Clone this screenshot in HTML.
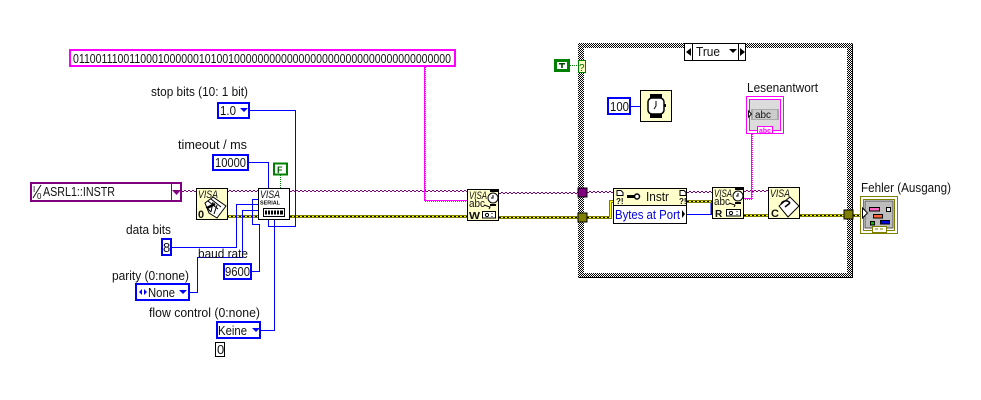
<!DOCTYPE html>
<html><head><meta charset="utf-8"><style>
html,body{margin:0;padding:0;background:#fff;width:981px;height:400px;overflow:hidden}
svg{display:block}
text{font-family:"Liberation Sans",sans-serif;font-size:13px;fill:#111}
.w{fill:none;stroke:#00f;stroke-width:1;shape-rendering:crispEdges}
.b{fill:#fff;stroke:#00f;stroke-width:2;shape-rendering:crispEdges}
.n{fill:#ffffcc;stroke:#000;stroke-width:1;shape-rendering:crispEdges}
.i{fill:none;stroke:#000;stroke-width:1}
.v{font-size:11px;font-style:italic}
</style></head><body>
<svg width="981" height="400" viewBox="0 0 981 400" xmlns="http://www.w3.org/2000/svg">
<defs>
<pattern id="ck" width="2" height="2" patternUnits="userSpaceOnUse"><rect width="2" height="2" fill="#fff"/><rect width="1" height="1" fill="#000"/><rect x="1" y="1" width="1" height="1" fill="#000"/></pattern>
</defs>

<!-- case structure -->
<rect x="578" y="43" width="275" height="235" fill="url(#ck)"/>
<rect x="584" y="48" width="263" height="225" fill="#fff"/>
<path d="M852.500 43.500V277.500H578.500" fill="none" stroke="#000" shape-rendering="crispEdges"/>

<!-- purple refnum wires -->
<g fill="none" stroke="#800080" stroke-width="1" stroke-dasharray="2 2" shape-rendering="crispEdges">
<path d="M182 191.500H196M227 191.500H258M290 191.500H467M499 193.500H578M587 192.500H613M687 192.500H712M744 191.500H768"/>
<path d="M184 190.500H196M229 190.500H258M292 190.500H467M501 192.500H578M589 191.500H613M689 191.500H712M746 190.500H768"/>
</g>

<!-- error wires -->
<g fill="none" shape-rendering="crispEdges">
<path d="M227 216.500H258M290 216.500H467M499 217.500H578M587 217.500H610.500V201.500H613M687 201.500H712M744 215.500H768M800 215.500H844M853 215.500H860" stroke="#808000" stroke-width="3"/>
<path d="M227 216.500H258M290 216.500H467M499 217.500H578M587 217.500H610.500V201.500H613M687 201.500H712M744 215.500H768M800 215.500H844M853 215.500H860" stroke="#ffff00" stroke-width="1"/>
<path d="M227 216.500H258M290 216.500H467M499 217.500H578M587 217.500H610.500M687 201.500H712M744 215.500H768M800 215.500H844M853 215.500H860" stroke="#000" stroke-width="1" stroke-dasharray="2 2"/>
</g>

<!-- pink string wires -->
<g fill="none" stroke="#ff00ff" shape-rendering="crispEdges">
<path d="M424.500 67V200.500H467"/>
<path d="M425.500 67V201.500H467" stroke-dasharray="1 1"/>
<path d="M751.500 134V198.500H744"/>
<path d="M752.500 134V199.500H744" stroke-dasharray="1 1"/>
</g>

<!-- blue wires -->
<path class="w" d="M250 110.500H295.500V226.500H268.500V219"/>
<path class="w" d="M249 162.500H268.500V188"/>
<path class="w" d="M172 247.500H236.500V204.500H258"/>
<path class="w" d="M190 292.500H197.500V257.500H242.500V210.500H258"/>
<path class="w" d="M252 271.500H259.500V224.500H252.500V199.500H258"/>
<path class="w" d="M261 330.500H274.500V219"/>
<path class="w" d="M631 106.500H640"/>
<path class="w" d="M687 214.500H712"/>
<path class="w" d="M711.500 203V214" style="stroke-width:2"/>
<path d="M280.500 175V188" stroke="#008000" stroke-dasharray="1 1" fill="none" shape-rendering="crispEdges"/>
<path d="M570 65.500H578" stroke="#008000" stroke-dasharray="1 1" fill="none" shape-rendering="crispEdges"/>

<!-- string constant -->
<rect x="70" y="50" width="385" height="16" fill="#fff" stroke="#ff00ff" stroke-width="2" shape-rendering="crispEdges"/>
<text x="73" y="63" textLength="378" lengthAdjust="spacingAndGlyphs">01100111001100010000001010010000000000000000000000000000000000000</text>

<!-- labels -->
<text x="151" y="96" textLength="97" lengthAdjust="spacingAndGlyphs">stop bits (10: 1 bit)</text>
<text x="178" y="149" textLength="69" lengthAdjust="spacingAndGlyphs">timeout / ms</text>
<text x="126" y="234" textLength="45" lengthAdjust="spacingAndGlyphs">data bits</text>
<text x="198" y="258" textLength="50" lengthAdjust="spacingAndGlyphs">baud rate</text>
<text x="112" y="280" textLength="77" lengthAdjust="spacingAndGlyphs">parity (0:none)</text>
<text x="149" y="317" textLength="111" lengthAdjust="spacingAndGlyphs">flow control (0:none)</text>
<text x="747" y="92" textLength="71" lengthAdjust="spacingAndGlyphs">Lesenantwort</text>
<text x="861" y="192" textLength="90" lengthAdjust="spacingAndGlyphs">Fehler (Ausgang)</text>

<!-- resource control -->
<rect x="31" y="183" width="150" height="18" fill="#fff" stroke="#800080" stroke-width="2" shape-rendering="crispEdges"/>
<path d="M171.500 184V200" stroke="#800080" shape-rendering="crispEdges"/>
<path d="M172 190h9l-4.500 5z" fill="#800080"/>
<text x="33" y="192" style="font-size:8px">I</text><text x="37" y="199" style="font-size:8px">0</text>
<path d="M33 198L41 185" stroke="#111" fill="none"/>
<text x="43" y="196" textLength="72" lengthAdjust="spacingAndGlyphs">ASRL1::INSTR</text>

<!-- stop bits -->
<rect x="218" y="103" width="31" height="15" class="b"/>
<text x="220" y="115" textLength="16" lengthAdjust="spacingAndGlyphs">1.0</text><path d="M240 108h8l-4 4z" fill="#00f"/>
<!-- timeout -->
<rect x="213" y="155" width="35" height="15" class="b"/>
<text x="215" y="167" textLength="31" lengthAdjust="spacingAndGlyphs">10000</text>
<!-- F -->
<rect x="274" y="163.500" width="13" height="11" fill="#fff" stroke="#008000" stroke-width="2" shape-rendering="crispEdges"/>
<text x="277" y="173" style="font-size:9px;font-weight:bold;fill:#006000">F</text>
<!-- 8 -->
<rect x="162" y="239" width="9" height="16" class="b"/>
<text x="163" y="252">8</text>
<!-- 9600 -->
<rect x="224" y="264" width="27" height="15" class="b"/>
<text x="225" y="276" textLength="25" lengthAdjust="spacingAndGlyphs">9600</text>
<!-- None -->
<rect x="136" y="284" width="53" height="16" class="b"/>
<path d="M139 292l3-3v6zM147 292l-3-3v6z" fill="#00f"/>
<text x="148" y="297" textLength="27" lengthAdjust="spacingAndGlyphs">None</text>
<path d="M179 290h8l-4 4z" fill="#00f"/>
<!-- Keine -->
<rect x="217" y="322" width="43" height="16" class="b"/>
<text x="218" y="335" textLength="29" lengthAdjust="spacingAndGlyphs">Keine</text>
<path d="M252 328h8l-4 4z" fill="#00f"/>
<!-- 0 -->
<rect x="215.500" y="342.500" width="9" height="14" fill="#fff" stroke="#000" shape-rendering="crispEdges"/>
<text x="217" y="354">0</text>

<!-- VISA open -->
<rect x="196.500" y="188.500" width="31" height="31" class="n"/>
<text x="198" y="198" class="v" textLength="20" lengthAdjust="spacingAndGlyphs">VISA</text>
<text x="198" y="218" style="font-size:11px;font-weight:bold">0</text>
<path d="M205 203l8-6 13 9-9 12-8-5z" fill="#fff" stroke="#000"/>
<path d="M208 201l10 8M211 199l10 8M206 207l5 5M213 202l-2 10M217 205l-3 9" stroke="#000"/>
<path d="M207 208l8-4" stroke="#000" stroke-width="2.500"/>

<!-- VISA serial -->
<rect x="258.500" y="188.500" width="31" height="31" fill="#fff" stroke="#000" stroke-width="1" shape-rendering="crispEdges"/>
<text x="260" y="198" class="v" textLength="20" lengthAdjust="spacingAndGlyphs">VISA</text>
<text x="260" y="204.500" style="font-size:5.500px;font-weight:bold" textLength="20" lengthAdjust="spacingAndGlyphs">SERIAL</text>
<rect x="263.500" y="208.500" width="21" height="8" fill="#fff" stroke="#000" shape-rendering="crispEdges"/>
<path d="M265 210.500h2v4h-2zM268 210.500h2v4h-2zM271 210.500h2v4h-2zM274 210.500h2v4h-2zM277 210.500h2v4h-2zM280 210.500h3v4h-3z" fill="#000"/>

<!-- VISA write -->
<rect x="467.500" y="189.500" width="31" height="31" class="n"/>
<text x="469" y="199" class="v" textLength="18" lengthAdjust="spacingAndGlyphs">VISA</text>
<rect x="490" y="189" width="8" height="3" fill="#000"/><rect x="490" y="204" width="6" height="2" fill="#000"/>
<circle cx="493" cy="198" r="5" fill="#fff" stroke="#000"/><path d="M493 195v3h-2" class="i"/>
<text x="469" y="207" style="font-size:11px" textLength="16" lengthAdjust="spacingAndGlyphs">abc</text>
<path d="M484 205l6 2-1 2" class="i"/>
<text x="469" y="219" style="font-size:10px;font-weight:bold" textLength="11" lengthAdjust="spacingAndGlyphs">W</text>
<rect x="482.500" y="211.500" width="13" height="6.500" fill="#fff" stroke="#000" shape-rendering="crispEdges"/>
<circle cx="487" cy="215" r="1.600" class="i"/><path d="M492 213v1M492 216v1" stroke="#000"/>

<!-- case selector -->
<rect x="684.500" y="43.500" width="61" height="17" fill="#fff" stroke="#000" shape-rendering="crispEdges"/>
<path d="M692.500 44V60M738.500 44V60" stroke="#000" shape-rendering="crispEdges"/>
<path d="M691 48v8l-5-4zM740 48v8l5-4z" fill="#000"/>
<text x="696" y="56" textLength="24" lengthAdjust="spacingAndGlyphs">True</text>
<path d="M729 49h8l-4 4z" fill="#000"/>

<!-- T and ? -->
<rect x="554" y="59" width="16" height="13" fill="#008000"/>
<rect x="557" y="62" width="10" height="7" fill="#fff"/>
<path d="M559 63h6v1.500h-2.200v3.500h-1.600v-3.500h-2.200z" fill="#004000"/>
<rect x="578.500" y="60.500" width="7" height="12" fill="#ffffc0" stroke="#008000" shape-rendering="crispEdges"/>
<text x="579" y="71" style="font-size:10px;fill:#006000">?</text>

<!-- tunnels -->
<rect x="578" y="188" width="9" height="9" fill="#800080" stroke="#000" stroke-width="1" shape-rendering="crispEdges"/>
<rect x="578" y="213" width="9" height="9" fill="#808000" stroke="#000" shape-rendering="crispEdges"/>
<rect x="844" y="210" width="9" height="9" fill="#808000" stroke="#000" shape-rendering="crispEdges"/>

<!-- 100 -->
<rect x="608" y="98" width="22" height="16" class="b"/>
<text x="610" y="111" textLength="19" lengthAdjust="spacingAndGlyphs">100</text>
<!-- wait -->
<rect x="640.500" y="90.500" width="31" height="31" class="n"/>
<rect x="650" y="94" width="12" height="5" fill="#000"/><rect x="650" y="113" width="12" height="5" fill="#000"/>
<rect x="648" y="98" width="16" height="16" rx="4" fill="#fff" stroke="#000" stroke-width="1.500"/>
<path d="M664 104h2v3h-2z" fill="#000"/><path d="M656 101v5l-2 3" class="i"/>

<!-- Lesenantwort indicator -->
<rect x="746.500" y="96.500" width="37" height="37" fill="#fff" stroke="#ff00ff" shape-rendering="crispEdges"/>
<rect x="749.500" y="99.500" width="31" height="31" fill="#dcdcdc" stroke="#ff00ff" shape-rendering="crispEdges"/>
<rect x="751" y="109" width="28" height="11" fill="#aaa"/>
<rect x="753" y="110" width="24" height="9" fill="#ccc"/>
<text x="755" y="118" style="font-size:10px" textLength="16" lengthAdjust="spacingAndGlyphs">abc</text>
<path d="M748.500 111l3 3-3 3z" fill="#fff" stroke="#000"/>
<rect x="757.500" y="126.500" width="15" height="7" fill="#fff" stroke="#ff00ff" shape-rendering="crispEdges"/>
<text x="759" y="133" style="font-size:7.500px;fill:#ff00ff;font-weight:bold" textLength="12" lengthAdjust="spacingAndGlyphs">abc</text>

<!-- property node -->
<rect x="613.500" y="188.500" width="73" height="17" class="n"/>
<rect x="613.500" y="205.500" width="73" height="18" fill="#fff" stroke="#000" shape-rendering="crispEdges"/>
<path d="M617 190.500h4l2 2v3h-6zM680 190.500h4l2 2v3h-6z" fill="#fff" stroke="#000"/>
<text x="616" y="204" style="font-size:8px;font-weight:bold">?!</text>
<text x="679" y="204" style="font-size:8px;font-weight:bold">?!</text>
<path d="M627 196.500h8" stroke="#000" stroke-width="3"/><circle cx="637" cy="196.500" r="2.500" fill="#fff" stroke="#000" stroke-width="1.500"/>
<text x="646" y="201" textLength="23" lengthAdjust="spacingAndGlyphs">Instr</text>
<text x="615" y="219" style="fill:#0000e0" textLength="65" lengthAdjust="spacingAndGlyphs">Bytes at Port</text>
<path d="M682 210l3 4-3 4z" fill="#000"/>

<!-- VISA read -->
<rect x="712.500" y="187.500" width="31" height="31" class="n"/>
<text x="714" y="197" class="v" textLength="18" lengthAdjust="spacingAndGlyphs">VISA</text>
<rect x="735" y="187" width="8" height="3" fill="#000"/><rect x="735" y="202" width="6" height="2" fill="#000"/>
<circle cx="738" cy="196" r="5" fill="#fff" stroke="#000"/><path d="M738 193v3h-2" class="i"/>
<text x="714" y="205" style="font-size:11px" textLength="16" lengthAdjust="spacingAndGlyphs">abc</text>
<path d="M729 203l6 2-1 2" class="i"/>
<text x="715" y="217" style="font-size:10px;font-weight:bold">R</text>
<rect x="726.500" y="209.500" width="14" height="6.500" fill="#fff" stroke="#000" shape-rendering="crispEdges"/>
<circle cx="731" cy="213" r="1.600" class="i"/><path d="M737 211v1M737 214v1" stroke="#000"/>

<!-- VISA close -->
<rect x="768.500" y="187.500" width="31" height="31" class="n"/>
<text x="770" y="197" class="v" textLength="20" lengthAdjust="spacingAndGlyphs">VISA</text>
<text x="771" y="217" style="font-size:11px;font-weight:bold">C</text>
<path d="M779 206l11-9 9 9-11 11z" fill="#fff" stroke="#000"/>
<path d="M781 204c2-4 7-4 9-1M785 207l5-4" stroke="#000" fill="none" stroke-width="1.500"/>

<!-- Fehler cluster -->
<rect x="860.500" y="196.500" width="37" height="37" fill="#fff" stroke="#808000" shape-rendering="crispEdges"/>
<rect x="863.500" y="199.500" width="31" height="31" fill="#fff" stroke="#808000" shape-rendering="crispEdges"/>
<rect x="865" y="201" width="28" height="27" fill="#bdbdbd" stroke="#555" shape-rendering="crispEdges"/>
<path d="M862.500 208l5 5-5 5z" fill="#fff" stroke="#000"/>
<rect x="869.500" y="207.500" width="10" height="3.500" fill="#ff66c0" stroke="#000" shape-rendering="crispEdges"/>
<rect x="873.500" y="214.500" width="9" height="3.500" fill="#ff6030" stroke="#000" shape-rendering="crispEdges"/>
<rect x="886.500" y="207.500" width="4" height="4" fill="#eee" stroke="#000" shape-rendering="crispEdges"/>
<rect x="870.500" y="221.500" width="4" height="3.500" fill="#00c000" stroke="#000" shape-rendering="crispEdges"/>
<rect x="880.500" y="220.500" width="9" height="3.500" fill="#0000e0" stroke="#000" shape-rendering="crispEdges"/>
<rect x="872.500" y="226.500" width="14" height="6" fill="#fff" stroke="#808000" shape-rendering="crispEdges"/>
<path d="M875 229h3M880 229h3" stroke="#808000"/>
</svg>
</body></html>
